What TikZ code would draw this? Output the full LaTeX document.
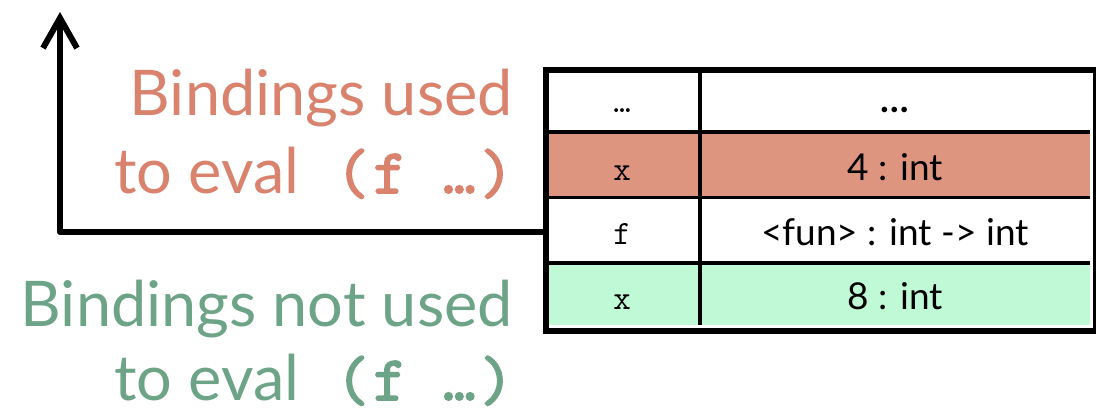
\documentclass[tikz,border=0pt]{standalone}
\usepackage{fontspec}
\setmainfont{Lato}
\setsansfont{Lato}
\newfontfamily\boldmono[AutoFakeBold=3, LetterSpace=7.5]{Latin Modern Mono}
\usetikzlibrary{arrows.meta}
\definecolor{usedtxt}{HTML}{D9826E}
\definecolor{usedfill}{HTML}{DE9580}
\definecolor{nottxt}{HTML}{6DA386}
\definecolor{notfill}{HTML}{BFF9D6}
\tikzset{
  lbl/.style={inner sep=0pt, anchor=base east, font=\fontsize{63}{63}\selectfont},
  cell/.style={inner sep=0pt, anchor=base, font=\fontsize{37}{37}\selectfont},
  mcell/.style={inner sep=0pt, anchor=base, font=\fontsize{34}{34}\selectfont\ttfamily},
  grid/.style={line width=3.5pt},
  border/.style={line width=6pt},
  conn/.style={line width=6pt, line cap=round, line join=round},
}
\begin{document}
\begin{tikzpicture}[x=1pt,y=-1pt]
\useasboundingbox (0,0) rectangle (1096,413);
% row fills
\fill[white] (546,70) rectangle (1090,132);
\fill[usedfill] (546,132) rectangle (1090,197.5);
\fill[white] (546,197.5) rectangle (1090,263);
\fill[notfill] (546,263) rectangle (1090,325);
% grid
\draw[grid] (546,132) -- (1090,132);
\draw[grid] (546,197.5) -- (1090,197.5);
\draw[grid] (546,263) -- (1090,263);
\draw[grid] (700,70) -- (700,325);
\node[draw, border, minimum width=550pt, minimum height=261pt, inner sep=0pt, anchor=north west] (tbl) at (543,67) {};
% cells
\node[mcell] (k1) at (622,112) {…};
\node[cell, font=\fontsize{37}{37}\selectfont\bfseries] (v1) at (895,112) {…};
\node[mcell] (k2) at (622,180) {x};
\node[cell] (v2) at (895,180) {4 : int};
\node[mcell] (k3) at (622,244) {f};
\node[cell] (v3) at (895,245) {<fun> : int -> int};
\node[mcell] (k4) at (622,309) {x};
\node[cell] (v4) at (895,309) {8 : int};
% labels
\node[lbl, text=usedtxt] (usedA) at (513,115) {Bindings used};
\node[lbl, text=usedtxt] (usedB) at (513,193) {to eval{\boldmono\bfseries{} (f …)}};
\node[lbl, text=nottxt] (notA) at (513,326) {Bindings not used};
\node[lbl, text=nottxt] (notB) at (513,400) {to eval{\boldmono\bfseries{} (f …)}};
% connector
\coordinate (top) at (60,12);
\coordinate (corner) at (60,232);
\draw[conn, -{Straight Barb[length=30pt, width=34pt, line width=6pt]}] (tbl.west |- corner) -- (corner) -- (top);
\end{tikzpicture}
\end{document}
